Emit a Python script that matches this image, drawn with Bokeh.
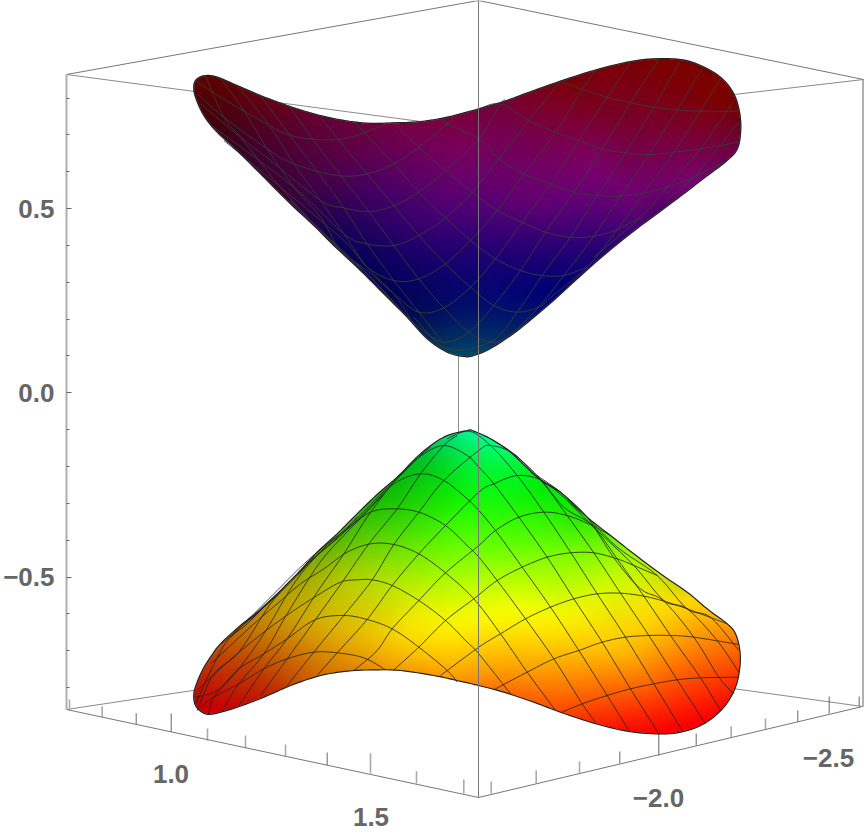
import numpy as np
from bokeh.plotting import figure
from bokeh.models import Range1d, LinearAxis, FixedTicker
from bokeh.core.properties import value
from bokeh.embed import file_html
from bokeh.resources import INLINE

# ---- axes / box ----
Z_TICKS = [-0.5, 0.0, 0.5]
Z_MINOR = [-0.8, -0.7, -0.6, -0.4, -0.3, -0.2, -0.1, 0.1, 0.2, 0.3, 0.4, 0.6, 0.7, 0.8]
Z_LABELS = {-0.5: "\u22120.5", 0.0: "0.0", 0.5: "0.5"}
X_LABELS = ["1.0", "1.5"]
Y_LABELS = ["\u22122.0", "\u22122.5"]
LABEL_PX = [170.5, 370.5, 658, 828]
LABEL_PY = [773.5, 816.5, 797, 757]

BOX_X0 = [66, 66, 458, 458, 458]
BOX_Y0 = [74, 709, 126, 650, 126]
BOX_X1 = [458, 458, 863, 862, 458]
BOX_Y1 = [126, 650, 79, 706, 650]
FRONT_X0 = [66, 478, 66, 478, 478]
FRONT_Y0 = [74, 0, 709, 797, 0]
FRONT_X1 = [478, 863, 478, 862, 478]
FRONT_Y1 = [0, 79, 797, 706, 797]

TICK_PX = [69, 101.7, 135.7, 170.7, 207, 245, 285, 326.7, 370, 416, 463.3,
           490.7, 535.7, 579, 619.3, 658.3, 695.7, 730.7, 765, 797.3, 828.7, 858.7]
TICK_TOP = [699, 705.7, 712.7, 713, 728, 735, 744, 752, 752.7, 770.7, 779,
            781, 770, 761, 751, 733, 733, 725.7, 718, 710, 696, 696]
TICK_BASE = [709, 716.7, 724, 731.7, 740, 747.7, 756, 765, 773, 783, 793,
             793, 782.7, 772.7, 763, 755, 745, 737, 729, 721.7, 713, 706]
TICK_DARK = [0, 0, 1, 1, 0, 0, 0, 1, 0, 0, 0, 0, 0, 0, 1, 1, 1, 0, 0, 1, 1, 1]

# ---- lower sheet: outline and mesh (crop units) ----
LOW_OUT = [(860,30),(790,50),(720,100),(650,170),(590,222),(530,280),(470,340),(410,395),(350,460),
           (290,520),(230,575),(180,615),(120,670),(90,710),(68,745),(50,785),(40,820),(45,855),(70,878),(100,880),
           (170,860),(250,830),(330,795),(420,765),(500,752),(580,748),(660,750),(760,765),(830,780),
           (895,795),(970,815),(1060,845),(1140,875),(1240,908),(1340,932),(1430,940),(1500,935),
           (1570,910),(1630,860),(1665,800),(1678,740),(1678,690),(1665,640),(1640,610),(1580,565),
           (1520,515),(1440,460),(1360,400),(1290,345),(1220,290),(1140,215),(1070,170),(990,95),
           (930,55),(880,32)]
LOW_F2 = [
 [(800,55),(865,32),(930,75),(1010,165),(1090,275),(1170,395),(1250,520),(1335,650),(1420,790),(1505,930)],
 [(350,465),(420,392),(480,340),(540,283),(600,222),(660,165),(720,107),(790,75),(860,105),(895,140),(940,190),(1015,290),(1100,410),(1180,535),(1265,665),(1350,805),(1435,940)],
 [(210,600),(280,530),(340,470),(410,405),(480,345),(560,270),(640,190),(720,160),(790,180),(860,235),(895,270),(945,330),(1025,440),(1110,560),(1195,690),(1280,825),(1345,930)],
 [(150,650),(220,580),(290,510),(360,440),(430,378),(500,325),(570,275),(640,265),(715,275),(795,315),(860,375),(895,410),(950,480),(1035,595),(1120,715),(1205,850),(1245,905)],
 [(90,730),(150,675),(220,610),(290,550),(360,490),(430,445),(500,395),(570,370),(640,372),(715,400),(795,457),(880,535),(960,640),(1040,755),(1125,870)],
 [(50,810),(130,735),(200,675),(270,620),(340,570),(410,525),(480,485),(530,478),(575,478),(635,495),(715,540),(795,600),(860,665),(895,700),(990,820)],
 [(45,830),(110,810),(175,745),(250,700),(320,655),(405,597),(490,585),(560,597),(635,625),(715,680),(800,750),(830,785)],
 [(60,860),(100,830),(175,790),(250,745),(320,715),(400,695),(470,697),(550,712),(615,748)],
 [(930,55),(1000,100),(1080,178),(1160,285),(1240,397),(1320,518),(1405,645),(1490,778),(1575,910)],
 [(1000,100),(1075,170),(1150,260),(1235,315),(1310,415),(1390,527),(1470,645),(1560,772),(1620,870)],
 [(1070,165),(1140,215),(1220,290),(1300,412),(1380,505),(1450,542),(1540,650),(1615,770),(1660,820)],
 [(1160,240),(1240,320),(1360,435),(1450,540),(1520,565),(1610,660),(1675,755)],
 [(1220,290),(1310,380),(1430,465),(1520,565),(1590,590),(1675,690)],
]
LOW_F1 = [
 [(780,765),(895,680),(960,640),(1035,595),(1110,560),(1180,535),(1250,520),(1320,518),(1390,527),(1450,542),(1520,565),(1640,610)],
 [(640,748),(715,680),(795,600),(880,535),(950,480),(1025,440),(1100,410),(1170,397),(1240,397),(1310,415),(1360,435),(1430,465)],
 [(520,750),(590,690),(635,625),(715,540),(795,457),(895,375),(945,330),(1015,290),(1090,275),(1160,285),(1235,315),(1290,345)],
 [(410,765),(470,697),(560,597),(635,495),(715,400),(795,315),(895,215),(940,190),(1010,165),(1080,178),(1150,230),(1200,275)],
 [(320,795),(400,695),(490,585),(575,478),(640,372),(715,275),(790,180),(895,90),(930,75),(1000,100),(1075,175),(1140,215)],
 [(240,825),(320,715),(405,597),(490,478),(565,370),(650,265),(720,160),(790,75),(830,45)],
 [(175,855),(250,745),(320,655),(410,515),(490,400),(560,290),(640,185),(720,105),(750,80)],
 [(125,870),(175,790),(250,700),(320,580),(415,430),(490,345),(550,283),(610,220)],
 [(85,880),(100,830),(175,745),(250,640),(340,490),(410,405),(480,345),(530,290)],
 [(50,870),(100,760),(175,695),(270,550),(340,475),(400,410)],
 [(45,850),(130,675),(200,610),(270,540),(340,470),(370,440)],
 [(120,672),(190,612),(270,542),(320,490)],
 [(190,610),(230,578),(300,515)],
 [(945,805),(1040,755),(1120,715),(1195,690),(1265,665),(1335,650),(1405,645),(1470,645),(1540,650),(1675,672)],
 [(1145,875),(1205,850),(1280,825),(1350,805),(1420,790),(1490,778),(1560,772),(1675,770)],
]
LOW_SAMPLES = [
 (467,431,0,250,150),(420,460,0,190,30),(447,480,0,220,0),(467,497,0,255,0),(397,500,20,200,0),
 (363,537,90,205,0),(413,530,70,230,0),(463,520,50,255,0),(447,570,150,255,0),(397,577,170,235,0),
 (347,580,190,210,0),(313,570,150,175,0),(280,600,190,150,0),(330,620,225,195,0),(397,637,255,220,0),
 (463,627,255,255,0),(463,670,255,170,0),(380,660,240,160,0),(313,663,210,120,0),(263,680,190,50,0),
 (213,700,200,10,0),(200,680,190,30,0),(230,650,195,75,0),(253,625,195,130,0),(493,453,0,255,100),
 (527,493,0,240,0),(577,527,60,240,0),(627,560,170,250,0),(560,553,120,255,0),(510,537,80,255,0),
 (543,620,255,255,0),(610,587,220,255,0),(660,603,255,230,0),(693,610,255,200,0),(723,630,255,150,0),
 (627,653,255,190,0),(560,653,255,190,0),(510,660,255,180,0),(493,680,255,130,0),(560,693,255,110,0),
 (660,697,255,60,0),(720,673,255,70,0),(733,647,255,110,0),(627,720,255,30,0),(677,727,255,0,0),
 (450,443,0,220,90),(510,470,0,245,40),(480,575,170,255,0),(430,610,250,245,0),(300,640,210,130,0),
 (480,610,255,255,0),(500,620,255,255,0),(590,615,255,245,0),(520,600,240,255,0),(440,640,255,235,0),
 (600,640,255,205,0),(407,620,250,235,0),(357,647,230,170,0),(290,613,210,180,0),
]

# ---- upper sheet ----
UP_OUT = [(40,75),(50,55),(75,45),(110,50),(170,75),(240,105),(320,135),(400,160),(480,178),(560,188),
          (640,187),(720,183),(800,170),(895,145),(970,123),(1060,90),(1140,62),(1240,30),(1340,5),
          (1420,-5),(1500,-3),(1560,15),(1620,50),(1660,100),(1678,160),(1680,220),(1668,270),(1630,308),
          (1569,354),(1491,414),(1410,474),(1350,519),(1269,585),(1191,654),(1119,720),(1059,771),(999,819),
          (930,864),(880,885),(850,888),(800,875),(740,835),(680,770),(620,710),(540,630),(460,555),(400,495),(330,430),
          (250,350),(170,270),(110,215),(70,165),(45,110)]
UP_B = [
 [(45,60),(120,110),(240,180),(330,225),(430,238),(510,230),(620,190)],
 [(50,100),(130,170),(260,265),(340,310),(470,345),(560,340),(640,310),(715,260),(800,190),(830,165)],
 [(60,130),(180,230),(270,300),(420,420),(490,442),(565,453),(640,435),(715,395),(795,330),(895,235),(960,130),(975,120)],
 [(100,200),(340,380),(490,520),(560,550),(640,555),(715,525),(795,472),(875,395),(955,295),(1045,180),(1140,62)],
 [(130,240),(300,380),(490,540),(560,620),(640,660),(715,655),(795,610),(870,540),(950,450),(1030,340),(1125,215),(1205,87),(1245,30)],
 [(330,420),(480,570),(560,630),(640,700),(715,755),(790,742),(870,680),(945,595),(1025,485),(1110,370),(1195,240),(1280,110),(1350,5)],
 [(400,490),(560,640),(640,725),(715,800),(790,845),(865,815),(940,735),(1020,630),(1095,515),(1180,395),(1265,265),(1350,127),(1435,-2)],
 [(700,770),(800,865),(930,845),(1010,755),(1085,645),(1170,530),(1250,405),(1335,277),(1420,140),(1500,0)],
 [(1005,810),(1075,740),(1150,645),(1240,527),(1320,407),(1405,282),(1490,148),(1565,25)],
 [(1105,715),(1220,620),(1310,507),(1390,398),(1480,275),(1560,152),(1620,55)],
 [(1240,590),(1380,470),(1460,380),(1560,265),(1640,150),(1660,120)],
 [(1460,415),(1540,350),(1675,185)],
]
UP_C = [
 [(325,135),(400,240),(480,345),(565,453),(640,555),(715,655),(790,742),(865,815),(930,845),(970,835),(1005,810)],
 [(420,170),(480,245),(560,340),(640,435),(715,525),(795,610),(870,680),(940,735),(1010,755),(1075,740),(1105,715)],
 [(525,188),(640,310),(715,395),(795,472),(870,540),(945,595),(1020,630),(1085,645),(1150,645),(1220,620)],
 [(640,187),(715,260),(795,330),(875,395),(950,450),(1025,485),(1095,515),(1170,530),(1240,527),(1310,507),(1380,470)],
 [(780,175),(800,190),(895,235),(955,295),(1030,340),(1110,370),(1180,395),(1250,405),(1320,407),(1390,398),(1460,380),(1540,350),(1630,305)],
 [(895,145),(960,130),(1045,180),(1125,215),(1195,240),(1265,265),(1335,277),(1405,282),(1480,275),(1560,265),(1675,245)],
 [(1140,62),(1205,87),(1280,110),(1350,127),(1420,140),(1490,148),(1560,152),(1675,152)],
 [(240,105),(340,240),(420,345),(490,442),(560,550),(640,660),(715,755),(790,850)],
 [(170,75),(270,200),(340,310),(420,420),(490,520),(560,620),(640,700),(690,775)],
 [(120,55),(190,150),(260,265),(340,380),(420,470),(480,570),(560,640),(640,725)],
 [(75,45),(130,170),(180,230),(300,380),(400,490),(480,570)],
]
UP_SAMPLES = [
 (200,87,90,0,0),(230,97,85,0,10),(263,117,90,0,30),(313,127,95,0,55),(363,133,105,0,65),(413,137,115,0,80),
 (463,127,125,0,70),(463,167,120,0,110),(397,160,100,0,95),(330,160,85,0,70),(263,147,70,0,50),(230,123,70,0,20),
 (313,183,65,0,75),(380,193,70,0,105),(447,210,80,0,115),(297,193,60,0,60),(347,227,30,0,90),(413,233,45,0,110),
 (463,227,60,0,120),(380,260,10,0,95),(447,260,20,0,110),(397,300,0,0,85),(453,290,0,0,110),(427,323,0,20,85),
 (467,317,0,20,100),(467,347,0,65,105),(660,63,125,0,0),(710,107,125,0,10),(560,107,125,0,40),(493,117,115,0,70),
 (627,123,120,0,45),(727,130,115,0,40),(693,163,120,0,90),(593,167,125,0,110),(510,150,115,0,95),(527,200,105,0,115),
 (627,197,110,0,115),(577,213,85,0,120),(493,207,80,0,115),(610,240,50,0,115),(560,253,30,0,115),(493,257,25,0,115),
 (560,287,0,0,115),(510,293,0,0,120),(470,307,0,15,110),(493,327,0,30,100),(470,347,0,60,105),
]

# ---- helpers ----
def low_xy(pts):
    a = np.array(pts, float)
    return 180 + a[:, 0] / 3, 420 + a[:, 1] / 3

def up_xy(pts):
    a = np.array(pts, float)
    return 180 + a[:, 0] / 3, 60 + a[:, 1] / 3

def curve(x, y, closed=False, n=6):
    # Catmull-Rom path through the points that were read, so that the lines are not angular
    P = np.column_stack([x, y])
    if closed:
        P = np.vstack([P[-1], P, P[0], P[1]])
    else:
        P = np.vstack([P[0], P, P[-1]])
    out = []
    t = (np.arange(n) / n)[:, None]
    for i in range(1, len(P) - 2):
        a, b, c, d = P[i - 1], P[i], P[i + 1], P[i + 2]
        out.append(0.5 * (2 * b + (c - a) * t + (2 * a - 5 * b + 4 * c - d) * t ** 2 + (3 * b - a - 3 * c + d) * t ** 3))
    out = np.vstack(out + [P[-2][None]])
    return list(out[:, 0]), list(out[:, 1])

def surface_image(px, py, samples, sigma):
    px = np.array(px); py = np.array(py)
    x0, x1 = int(px.min()) - 2, int(px.max()) + 3
    y0, y1 = int(py.min()) - 2, int(py.max()) + 3
    w, h = x1 - x0, y1 - y0
    ss = 3
    cover = np.zeros((h, w))
    n = len(px)
    sub = np.arange(w) + 0.5
    for row in range(h * ss):
        yy = y0 + (row + 0.5) / ss
        xs = []
        for k in range(n):
            a, b = py[k], py[(k + 1) % n]
            if (a <= yy) != (b <= yy):
                xs.append(px[k] + (yy - a) / (b - a) * (px[(k + 1) % n] - px[k]))
        xs.sort()
        for s, e in zip(xs[::2], xs[1::2]):
            cover[row // ss] += np.clip(np.minimum(sub + 0.5, e - x0) - np.maximum(sub - 0.5, s - x0), 0, 1) / ss
    # local linear fit of the colours
    gx, gy = np.meshgrid(x0 + np.arange(w) + 0.5, y0 + np.arange(h) + 0.5)
    s = np.array(samples, float)
    dx = s[:, 0] - gx[..., None]
    dy = s[:, 1] - gy[..., None]
    wt = np.exp(-(dx ** 2 + dy ** 2) / (2 * sigma ** 2)) + 1e-7
    A = np.zeros((h, w, 3, 3))
    B = np.zeros((h, w, 3, 3))
    basis = [np.ones_like(dx), dx, dy]
    for i in range(3):
        for j in range(3):
            A[..., i, j] = (wt * basis[i] * basis[j]).sum(2)
        for c in range(3):
            B[..., i, c] = (wt * basis[i] * s[:, 2 + c]).sum(2)
    A += np.eye(3) * 1e-3
    sol = np.linalg.solve(A, B)
    rgb = sol[:, :, 0, :]
    out = np.zeros((h, w, 4), dtype=np.uint8)
    out[..., :3] = np.clip(rgb, 0, 255)
    out[..., 3] = np.clip(cover * 255, 0, 255)
    img = out.view(dtype=np.uint32).reshape(h, w)
    return img, x0, y0, w, h

# ---- figure ----
p = figure(width=864, height=835, output_backend="svg", toolbar_location=None,
           x_range=Range1d(66, 864), y_range=Range1d(835, 0),
           x_axis_location=None, y_axis_location=None, min_border=0, min_border_left=66,
           outline_line_color=None, background_fill_color=None, border_fill_color=None)
p.grid.visible = False

z_top = 392.3 / 368.5
z_bot = (392.3 - 835) / 368.5
p.extra_y_ranges = {"z": Range1d(z_bot, z_top)}
zax = LinearAxis(y_range_name="z", ticker=FixedTicker(ticks=Z_TICKS, minor_ticks=Z_MINOR),
                 bounds=(-0.86, 0.864), major_label_overrides=Z_LABELS,
                 axis_line_color="#b0b0b0", axis_line_width=2,
                 major_tick_in=5, major_tick_out=0, minor_tick_in=3, minor_tick_out=0,
                 major_tick_line_color="#666666", minor_tick_line_color="#666666",
                 major_label_standoff=12, major_label_text_font="Liberation Sans",
                 major_label_text_font_style="bold", major_label_text_font_size="26px",
                 major_label_text_color="#666666")
p.add_layout(zax, "left")

p.segment(BOX_X0, BOX_Y0, BOX_X1, BOX_Y1, line_color="#8a8a8a", line_width=1)
col = ["#666666" if d else "#aaaaaa" for d in TICK_DARK]
wid = [1 if d else 1.6 for d in TICK_DARK]
p.segment(TICK_PX, TICK_TOP, TICK_PX, TICK_BASE, line_color=col, line_width=wid)
p.segment([862.5], [79], [862.5], [706], line_color="#b0b0b0", line_width=2)

lx, ly = curve(*low_xy(LOW_OUT), closed=True)
ux, uy = curve(*up_xy(UP_OUT), closed=True)
for (xs, ys, smp) in ((lx, ly, LOW_SAMPLES), (ux, uy, UP_SAMPLES)):
    img, x0, y0, w, h = surface_image(xs, ys, smp, 24)
    p.image_rgba(image=[img], x=[x0], y=[y0], dw=[w], dh=[h])

lm = [curve(*low_xy(l)) for l in LOW_F1 + LOW_F2]
p.multi_line([m[0] for m in lm], [m[1] for m in lm], line_color="#222222", line_width=1, line_alpha=0.8)
um = [curve(*up_xy(l)) for l in UP_B + UP_C]
p.multi_line([m[0] for m in um], [m[1] for m in um], line_color="#3c3c3c", line_width=1, line_alpha=0.85)
p.line(lx, ly, line_color="#222222", line_width=1.2)
p.line(ux, uy, line_color="#222222", line_width=1.2)

p.segment(FRONT_X0, FRONT_Y0, FRONT_X1, FRONT_Y1, line_color="#777777", line_width=1)
p.text(LABEL_PX, LABEL_PY, text=X_LABELS + Y_LABELS, text_align="center", text_baseline="middle",
       text_font=value("Liberation Sans"), text_font_style="bold", text_font_size="26px", text_color="#666666")

open("out.html", "w").write(file_html(p, INLINE))
